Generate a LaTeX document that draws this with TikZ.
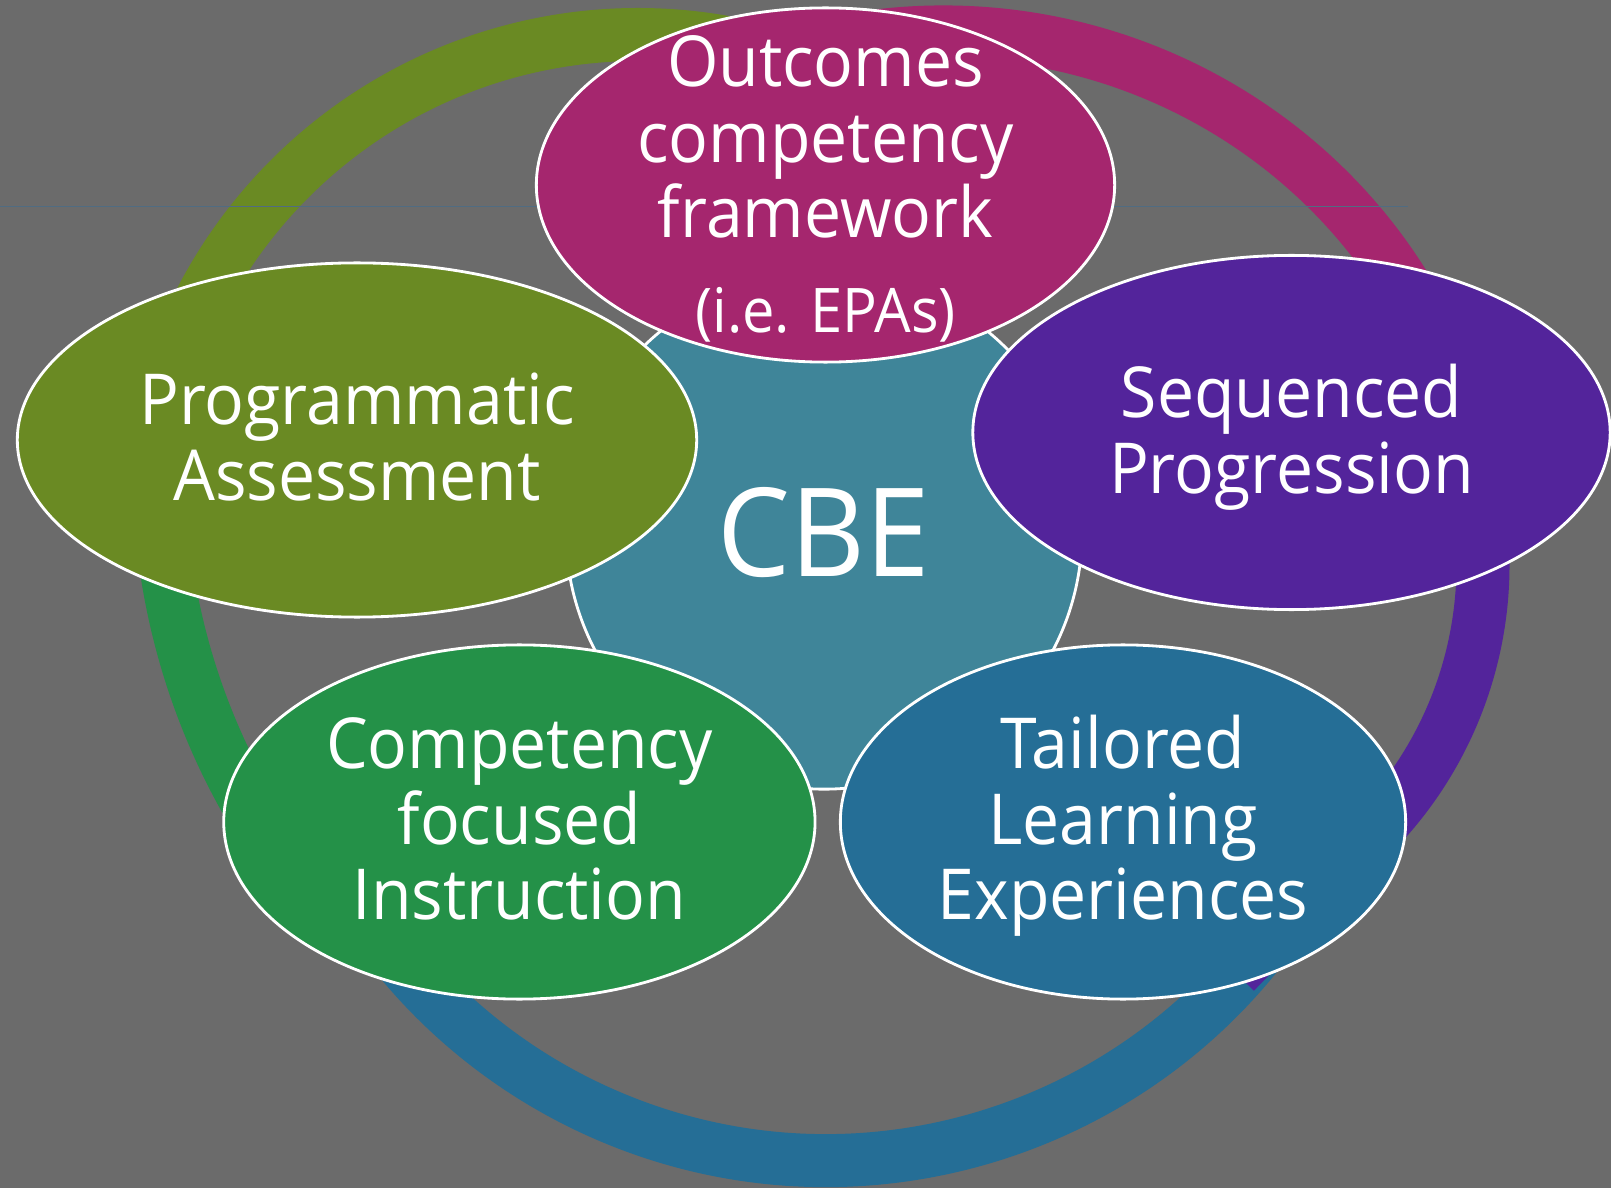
\documentclass[tikz,border=0pt]{standalone}
\usepackage{fontspec}
\setmainfont{Open Sans}[FakeStretch=0.94]
\usepackage{tikz}
\usetikzlibrary{shapes.geometric}

\definecolor{bggray}{RGB}{107,107,107}
\definecolor{cbeolive}{RGB}{106,138,35}
\definecolor{cbemagenta}{RGB}{165,38,110}
\definecolor{cbepurple}{RGB}{83,36,155}
\definecolor{cbeblue}{RGB}{37,110,150}
\definecolor{cbegreen}{RGB}{36,145,72}
\definecolor{cbeteal}{RGB}{63,133,153}
\definecolor{guide}{RGB}{80,108,130}

\begin{document}
\begin{tikzpicture}[x=0.01cm, y=0.01cm,
		ring/.style={line width=0.53cm},
		bubble/.style={ellipse, draw=white, line width=0.8pt, minimum height=3.54cm, inner sep=0pt},
		caption/.style={text=white, align=center, font=\fontsize{20}{21.5}\selectfont}]
		\fill[bggray] (0,0) rectangle (1611,-1188);
		\useasboundingbox (0,0) rectangle (1611,-1188);

		% outer cycle, one arc for each step
		\draw[ring, cbeblue] (826,-607) ++(-25:553.5) arc[start angle=-25, end angle=-160, radius=553.5];
		\draw[ring, cbegreen] (831,-470) ++(217:672) arc[start angle=217, end angle=175, radius=672];
		\draw[ring, cbeolive] (638,-527) ++(165:492.5) arc[start angle=165, end angle=65, radius=492.5];
		\draw[ring, cbemagenta] (943,-560) ++(99:540 and 528) arc[start angle=99, end angle=15, x radius=540, y radius=528];
		\draw[ring, cbepurple] (1100,-565) ++(20:383) arc[start angle=20, end angle=-45, radius=383] -- (1235,-972);

		\draw[guide, line width=0.3pt] (0,-206.5) -- (1408,-206.5);

		\node[circle, fill=cbeteal, draw=white, line width=0.8pt, minimum size=5.16cm, inner sep=0pt] (cbe) at (824,-531) {};
		\node[text=white, font=\fontsize{35}{40}\selectfont] (cbe-text) at (824,-533) {CBE};

		\node[bubble, fill=cbemagenta, minimum width=5.78cm] (outcomes) at (825.5,-185) {};
		\node[bubble, fill=cbeolive, minimum width=6.79cm] (assess) at (357,-440) {};
		\node[bubble, fill=cbepurple, minimum width=6.37cm] (sequence) at (1291.5,-432.5) {};
		\node[bubble, fill=cbegreen, minimum width=5.91cm] (instruct) at (519.4,-822) {};
		\node[bubble, fill=cbeblue, minimum width=5.65cm] (tailor) at (1123,-822) {};

		\node[caption] (outcomes-text) at (825.5,-189) {Outcomes\\competency\\framework\\[5.5pt]{\fontsize{17.5}{19}\selectfont (i.e. EPAs)}};
		\node[caption] (assess-text) at (357,-437) {Programmatic\\Assessment};
		\node[caption] (sequence-text) at (1291.5,-437.5) {Sequenced\\Progression};
		\node[caption] (instruct-text) at (519.4,-819) {Competency\\focused\\Instruction};
		\node[caption] (tailor-text) at (1123,-826) {Tailored\\Learning\\Experiences};
	\end{tikzpicture}
\end{document}
